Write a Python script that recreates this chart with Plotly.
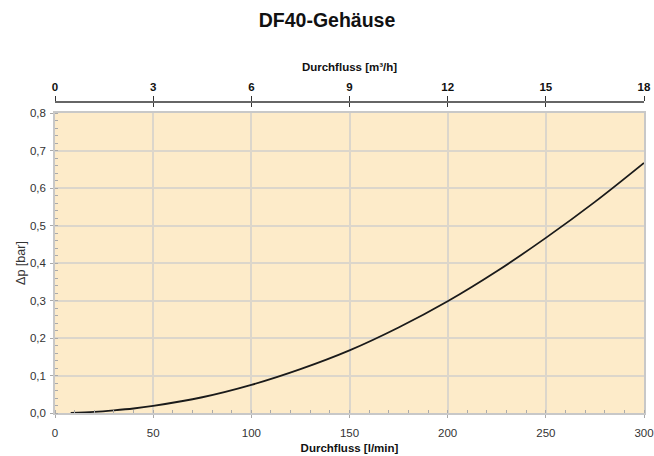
import plotly.graph_objects as go

# Data
flow_lpm = [8, 20, 30, 40, 50, 75, 100, 125, 150, 175, 200, 225, 250, 275, 300]
dp_bar = [0.0, 0.003, 0.007, 0.012, 0.019, 0.042, 0.075, 0.117, 0.167, 0.228, 0.298, 0.378, 0.467, 0.563, 0.667]
x_ticks = [0, 50, 100, 150, 200, 250, 300]
top_ticks = [0, 3, 6, 9, 12, 15, 18]
y_ticks = [0.0, 0.1, 0.2, 0.3, 0.4, 0.5, 0.6, 0.7, 0.8]
y_labels = ["0,0", "0,1", "0,2", "0,3", "0,4", "0,5", "0,6", "0,7", "0,8"]

FONT = "Liberation Sans, Arial, sans-serif"
W, H = 654, 456
mt = 85
ml = 55
mr = W - 644
bottom_fig = 413
mb = H - bottom_fig
ph = H - mt - mb
ydom_top = (bottom_fig - 113) / ph
top_pos = (bottom_fig - 102) / ph

fig = go.Figure()
fig.add_trace(go.Scatter(x=flow_lpm, y=dp_bar, mode="lines", line=dict(color="#1a1a1a", width=1.8, shape="spline"),
                         showlegend=False, hoverinfo="skip"))
fig.add_trace(go.Scatter(x=[0, 18], y=[0, 0], xaxis="x2", mode="lines", line=dict(width=0), showlegend=False, hoverinfo="skip"))
fig.add_trace(go.Scatter(x=[0, 18], y=[0, 0], xaxis="x3", mode="lines", line=dict(width=0), showlegend=False, hoverinfo="skip"))

fig.update_layout(
    width=W, height=H,
    margin=dict(l=ml, r=mr, t=mt, b=mb, autoexpand=False),
    paper_bgcolor="white",
    plot_bgcolor="#fdebc9",
    font=dict(family=FONT, color="#333"),
    title=dict(text="<b>DF40-Gehäuse</b>", x=327 / W, xanchor="center", y=1 - 20 / H, yanchor="middle",
               font=dict(size=19.5, color="#111", family=FONT)),
    xaxis=dict(range=[0, 300], tickvals=x_ticks, ticktext=[str(v) for v in x_ticks],
               showgrid=True, gridcolor="#dcd6cb", gridwidth=1.5,
               showline=True, linecolor="#c8c8c8", linewidth=1.5, mirror=True,
               ticks="outside", ticklen=3, tickcolor="#aaa", ticklabelstandoff=5,
               minor=dict(dtick=10, tick0=0, ticks="inside", ticklen=3, tickcolor="#aaa", showgrid=False),
               tickfont=dict(size=11.5, color="#333"), zeroline=False, automargin=False,
               title=dict(text="<b>Durchfluss [l/min]</b>", font=dict(size=11.5, color="#111"), standoff=6)),
    yaxis=dict(range=[0, 0.8], domain=[0, ydom_top], tickvals=y_ticks, ticktext=y_labels,
               showgrid=True, gridcolor="#dcd6cb", gridwidth=1.5,
               showline=True, linecolor="#c8c8c8", linewidth=1.5, mirror=True,
               ticks="outside", ticklen=3, tickcolor="#aaa", ticklabelstandoff=2,
               minor=dict(dtick=0.02, tick0=0, ticks="inside", ticklen=3, tickcolor="#aaa", showgrid=False),
               tickfont=dict(size=11.5, color="#333"), zeroline=False, automargin=False,
               title=dict(text="Δp [bar]", font=dict(size=12.5, color="#333"), standoff=2)),
    xaxis2=dict(range=[0, 18], overlaying="x", side="top", anchor="free", position=top_pos,
                tickvals=top_ticks, ticktext=[f"<b>{v}</b>" for v in top_ticks],
                showgrid=False, zeroline=False, showline=True, linecolor="#666", linewidth=2,
                ticks="outside", ticklen=5, tickwidth=1.2, tickcolor="#333", automargin=False,
                tickfont=dict(size=11.5, color="#111"),
                title=dict(text="<b>Durchfluss [m³/h]</b>", font=dict(size=11.5, color="#111"), standoff=6)),
    xaxis3=dict(range=[0, 18], overlaying="x", side="top", anchor="free", position=top_pos,
                tickvals=top_ticks, showticklabels=False, automargin=False,
                showgrid=False, zeroline=False, showline=False,
                ticks="inside", ticklen=4, tickwidth=1.2, tickcolor="#333"),
)

fig.write_html("out.html", config={"displayModeBar": False},
               post_script="document.body.style.margin='0';document.body.style.overflow='hidden';")
